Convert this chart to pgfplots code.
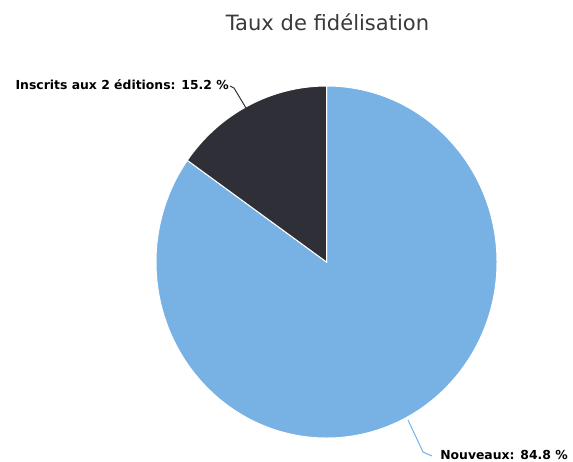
\documentclass[border=0pt]{standalone}
\usepackage{pgfplots}
\pgfplotsset{compat=1.18}
\usepackage{pgfplotstable}
\usepackage{fontspec}
\setmainfont{DejaVu Sans}
\definecolor{hcblue}{HTML}{78B1E4}
\definecolor{hcdark}{HTML}{2F2F37}
\definecolor{titlegray}{HTML}{3A3A3A}

% part de chaque groupe, en %
\pgfplotstableread{
slice value
Nouveaux 84.8
Inscrits 15.2
}\fidtable

\begin{document}
\begin{tikzpicture}
  % angles des parts (depart a midi, sens horaire)
  \pgfplotstablegetelem{0}{value}\of\fidtable
  \pgfmathsetmacro\angB{90-3.6*\pgfplotsretval}
  \pgfmathsetmacro\angBB{\angB+360}
  % centre et rayons du camembert (pixels)
  \def\cx{326.5}\def\cy{262}\def\rx{170.5}\def\ry{176}
  \pgfmathsetmacro\sx{\cx+\rx*cos(\angBB)}
  \pgfmathsetmacro\sy{\cy-\ry*sin(\angBB)}
  \begin{axis}[
      width=429.75pt, height=345.75pt, scale only axis,
      xmin=0, xmax=573, ymin=0, ymax=461,
      y dir=reverse,
      axis lines=none,
      clip=false,
    ]
    \coordinate (bl) at (axis cs:0,461);
    \coordinate (tr) at (axis cs:573,0);
    % Nouveaux
    \fill[hcblue, draw=white, line width=0.75pt]
      (axis cs:\cx,\cy) -- (axis cs:\cx,{\cy-\ry})
      arc[start angle=90, end angle=\angB, x radius=0.75*\rx pt, y radius=0.75*\ry pt] -- cycle;
    % Inscrits aux 2 editions
    \fill[hcdark, draw=white, line width=0.75pt]
      (axis cs:\cx,\cy) -- (axis cs:\sx,\sy)
      arc[start angle=\angBB, end angle=90, x radius=0.75*\rx pt, y radius=0.75*\ry pt] -- cycle;
    % connecteurs
    \draw[hcdark, line width=0.75pt] (axis cs:230,86) -- (axis cs:234,88) -- (axis cs:249,113);
    \draw[hcblue, line width=0.75pt] (axis cs:408,420) -- (axis cs:423,452) -- (axis cs:432,456);
    % textes
    \node[anchor=base, text=titlegray, font=\fontsize{15.8}{18}\selectfont, inner sep=0pt]
      at (axis cs:327.5,30) {Taux de fidélisation};
    \node[anchor=base east, font=\fontsize{9.3}{11}\selectfont\bfseries, inner sep=0pt]
      at (axis cs:229,89) {Inscrits aux 2 éditions: 15.2 \%};
    \node[anchor=base west, font=\fontsize{9.3}{11}\selectfont\bfseries, inner sep=0pt]
      at (axis cs:440,459) {Nouveaux: 84.8 \%};
  \end{axis}
  \pgfresetboundingbox
  \path (bl) rectangle (tr);
\end{tikzpicture}
\end{document}
